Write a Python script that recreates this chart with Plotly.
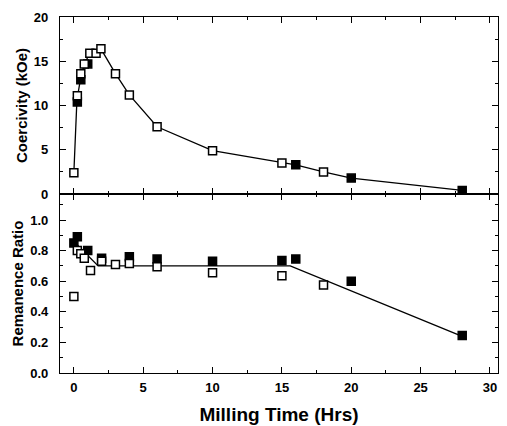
import plotly.graph_objects as go
from plotly.subplots import make_subplots

# Coercivity (top panel)
hc_open_x = [0, 0.25, 0.5, 0.75, 1.15, 1.6, 1.95, 3, 4, 6, 10, 15, 18]
hc_open_y = [2.4, 11.1, 13.6, 14.7, 15.9, 15.9, 16.4, 13.6, 11.2, 7.6, 4.9, 3.5, 2.5]
hc_fill_x = [0.25, 0.5, 1.0, 16, 20, 28]
hc_fill_y = [10.4, 12.9, 14.7, 3.3, 1.8, 0.4]
hc_line_x = [0, 0.22, 0.5, 0.75, 1.15, 1.6, 1.95, 3, 4, 6, 10, 15, 16, 18, 20, 28]
hc_line_y = [2.4, 10.6, 13.2, 14.7, 15.9, 15.9, 16.4, 13.6, 11.2, 7.6, 4.9, 3.5, 3.3, 2.5, 1.8, 0.4]

# Remanence ratio (bottom panel)
mr_open_x = [0, 0.25, 0.5, 0.75, 1.2, 2, 3, 4, 6, 10, 15, 18]
mr_open_y = [0.50, 0.80, 0.78, 0.75, 0.67, 0.73, 0.71, 0.715, 0.695, 0.655, 0.635, 0.575]
mr_fill_x = [0, 0.25, 1.0, 2, 4, 6, 10, 15, 16, 20, 28]
mr_fill_y = [0.85, 0.89, 0.80, 0.75, 0.76, 0.745, 0.73, 0.735, 0.745, 0.60, 0.245]
mr_line_x = [0, 1.75, 15.6, 28]
mr_line_y = [0.86, 0.70, 0.70, 0.24]

x_ticks = [0, 5, 10, 15, 20, 25, 30]

fig = make_subplots(rows=2, cols=1, shared_xaxes=True, vertical_spacing=0,
                    row_heights=[177, 179])

line_style = dict(color="black", width=1.3)
open_marker = dict(symbol="square", size=8, color="white", line=dict(color="black", width=1.5))
fill_marker = dict(symbol="square", size=8, color="black", line=dict(color="black", width=1.5))

fig.add_trace(go.Scatter(x=hc_line_x, y=hc_line_y, mode="lines", line=line_style), row=1, col=1)
fig.add_trace(go.Scatter(x=hc_fill_x, y=hc_fill_y, mode="markers", marker=fill_marker), row=1, col=1)
fig.add_trace(go.Scatter(x=hc_open_x, y=hc_open_y, mode="markers", marker=open_marker), row=1, col=1)

fig.add_trace(go.Scatter(x=mr_line_x, y=mr_line_y, mode="lines", line=line_style), row=2, col=1)
fig.add_trace(go.Scatter(x=mr_fill_x, y=mr_fill_y, mode="markers", marker=fill_marker), row=2, col=1)
fig.add_trace(go.Scatter(x=mr_open_x, y=mr_open_y, mode="markers", marker=open_marker), row=2, col=1)

tickfont = dict(family="Liberation Sans", size=13, color="black", weight="bold")
axis_common = dict(showline=True, linecolor="black", linewidth=1.2, mirror="ticks",
                   ticks="inside", ticklen=6, tickwidth=1.3, tickcolor="black",
                   showgrid=False, zeroline=False, tickfont=tickfont, automargin=False)

fig.update_xaxes(range=[-1, 30.58], tickvals=x_ticks,
                 minor=dict(ticks="inside", dtick=2.5, tick0=0, ticklen=3, tickcolor="black", tickwidth=1),
                 ticklabelstandoff=2, ticklabeloverflow="allow", **axis_common)
fig.update_xaxes(showticklabels=False, row=1, col=1)
fig.update_xaxes(title=dict(text="Milling Time (Hrs)", standoff=13,
                            font=dict(family="Liberation Sans", size=19, color="black", weight="bold")),
                 row=2, col=1)

fig.update_yaxes(range=[0, 20], tickvals=[0, 5, 10, 15, 20],
                 minor=dict(ticks="inside", dtick=2.5, tick0=0, ticklen=3, tickcolor="black", tickwidth=1),
                 ticklabelstandoff=8,
                 title=dict(text="Coercivity (kOe)", standoff=2,
                            font=dict(family="Liberation Sans", size=15, color="black", weight="bold")),
                 row=1, col=1, **axis_common)
fig.update_yaxes(range=[0, 1.17], tickvals=[0, 0.2, 0.4, 0.6, 0.8, 1.0], tickformat=".1f",
                 minor=dict(ticks="inside", dtick=0.1, tick0=0, ticklen=3, tickcolor="black", tickwidth=1),
                 ticklabelstandoff=8,
                 title=dict(text="Remanence Ratio", standoff=2,
                            font=dict(family="Liberation Sans", size=15, color="black", weight="bold")),
                 row=2, col=1, **axis_common)

fig.update_layout(width=491, height=418, showlegend=False,
                  margin=dict(l=52, r=1, t=9, b=53),
                  paper_bgcolor="white", plot_bgcolor="white")

fig.write_html("out.html")
